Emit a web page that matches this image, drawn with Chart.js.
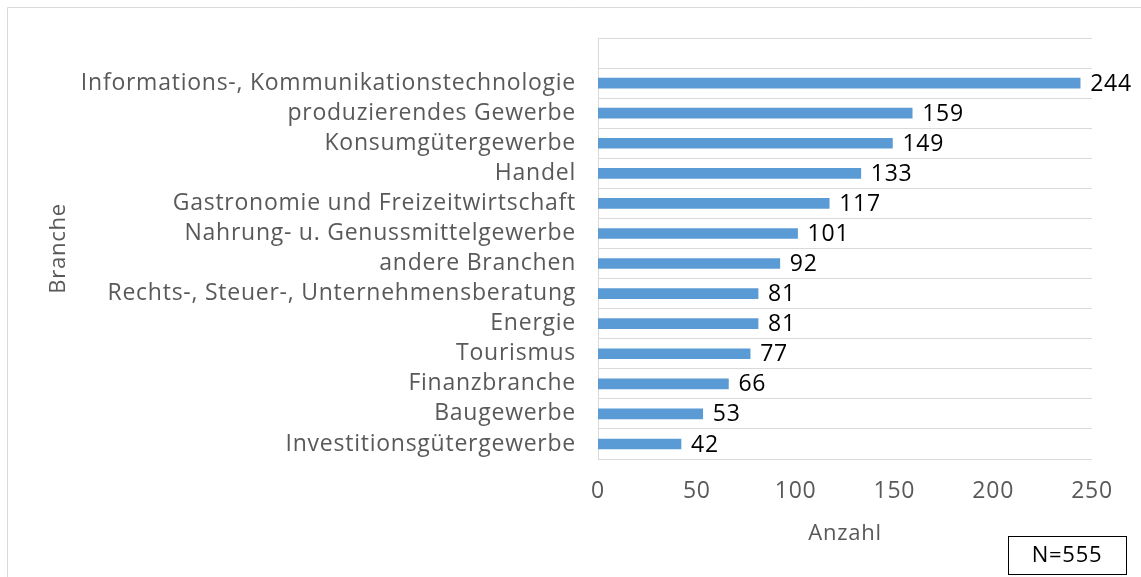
<!DOCTYPE html>
<html>
<head>
<meta charset="utf-8">
<script src="https://cdn.jsdelivr.net/npm/chart.js@4/dist/chart.umd.min.js"></script>
<style>
  html, body { margin: 0; padding: 0; background: #fff; }
  #wrap { width: 1141px; height: 577px; }
</style>
</head>
<body>
<div id="wrap"><canvas id="chart1" width="1141" height="577"></canvas></div>
<script>
/* ===============================
   Daten
================================ */
const categories = [
  'Informations-, Kommunikationstechnologie',
  'produzierendes Gewerbe',
  'Konsumgütergewerbe',
  'Handel',
  'Gastronomie und Freizeitwirtschaft',
  'Nahrung- u. Genussmittelgewerbe',
  'andere Branchen',
  'Rechts-, Steuer-, Unternehmensberatung',
  'Energie',
  'Tourismus',
  'Finanzbranche',
  'Baugewerbe',
  'Investitionsgütergewerbe'
];
const values = [244, 159, 149, 133, 117, 101, 92, 81, 81, 77, 66, 53, 42];
const xTicks = [0, 50, 100, 150, 200, 250];
const noteText = 'N=555';

const FONT = '"Open Sans", "Noto Sans", sans-serif';
const GREY = '#595959';
const LINE = '#d9d9d9';
const SPACING = '0.75px';

/* ===============================
   Plugins: Rahmen, Werte, N-Box
================================ */
const frame = {
  id: 'frame',
  beforeUpdate(chart) {
    chart.ctx.letterSpacing = SPACING;
  },
  beforeDraw(chart) {
    const ctx = chart.ctx;
    ctx.letterSpacing = SPACING;
    ctx.save();
    ctx.strokeStyle = LINE;
    ctx.lineWidth = 1;
    ctx.beginPath();
    ctx.moveTo(7.5, chart.height);
    ctx.lineTo(7.5, 7.5);
    ctx.lineTo(chart.width, 7.5);
    ctx.stroke();
    ctx.restore();
  }
};

const valueLabels = {
  id: 'valueLabels',
  afterDatasetsDraw(chart) {
    const ctx = chart.ctx;
    const meta = chart.getDatasetMeta(0);
    const data = chart.data.datasets[0].data;
    ctx.save();
    ctx.font = '23px ' + FONT;
    ctx.fillStyle = '#000';
    ctx.textAlign = 'left';
    ctx.textBaseline = 'middle';
    meta.data.forEach((bar, i) => {
      if (data[i] == null) return;
      ctx.fillText(String(data[i]), bar.x + 10, bar.y + 1);
    });
    ctx.restore();
  }
};

const noteBox = {
  id: 'noteBox',
  afterDraw(chart) {
    const ctx = chart.ctx;
    ctx.save();
    ctx.strokeStyle = '#000';
    ctx.lineWidth = 1;
    ctx.strokeRect(1008.5, 536.5, 118, 38);
    ctx.font = '22px ' + FONT;
    ctx.fillStyle = '#000';
    ctx.textAlign = 'center';
    ctx.textBaseline = 'middle';
    ctx.fillText(noteText, 1067, 556);
    ctx.restore();
  }
};

/* ===============================
   Balkendiagramm
================================ */
const ctx = document.getElementById('chart1').getContext('2d');

const chart = new Chart(ctx, {
  type: 'bar',
  data: {
    labels: [''].concat(categories),
    datasets: [
      {
        data: [null].concat(values),
        backgroundColor: '#5B9BD5',
        barThickness: 10
      }
    ]
  },
  options: {
    indexAxis: 'y',
    responsive: false,
    animation: false,
    layout: { padding: { left: 0, top: 38, right: 49, bottom: 0 } },
    plugins: {
      legend: { display: false },
      tooltip: { enabled: false }
    },
    scales: {
      x: {
        min: 0,
        max: 250,
        afterBuildTicks: (scale) => { scale.ticks = xTicks.map(v => ({ value: v })); },
        afterFit: (scale) => { scale.height = 118; },
        grid: { display: false, drawTicks: false },
        border: { display: false },
        ticks: { color: GREY, padding: 19, font: { family: FONT, size: 23 } },
        title: {
          display: true,
          text: 'Anzahl',
          color: GREY,
          font: { family: FONT, size: 22 },
          padding: { top: 0, bottom: 30 }
        }
      },
      y: {
        afterFit: (scale) => { scale.width = 598; },
        grid: { color: LINE, drawTicks: false },
        border: { display: true, color: LINE },
        ticks: { color: GREY, padding: 22, autoSkip: false, font: { family: FONT, size: 23 } },
        title: {
          display: true,
          text: 'Branche',
          color: GREY,
          font: { family: FONT, size: 22 },
          padding: { top: 46, bottom: 0 }
        }
      }
    }
  },
  plugins: [frame, valueLabels, noteBox]
});
</script>
</body>
</html>
